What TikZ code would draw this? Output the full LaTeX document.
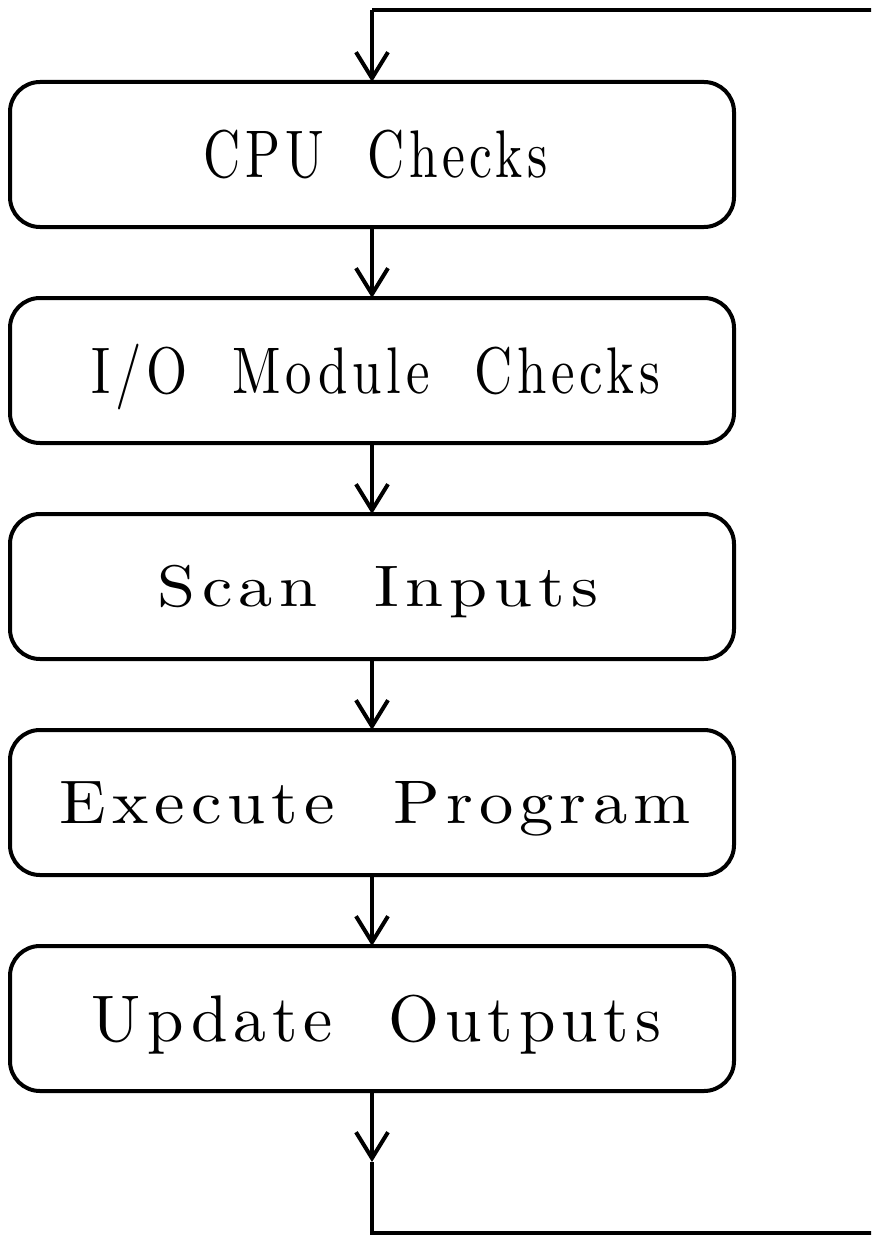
\documentclass[tikz,border=0pt]{standalone}
\usepackage{fontspec}
\usepackage{graphicx}
\usetikzlibrary{arrows.meta}
\newfontfamily\lblfont[LetterSpace=9,WordSpace=2]{lmroman10-regular.otf}
\newcommand{\lbl}[3]{\resizebox{#1pt}{#2pt}{\lblfont\rule{0pt}{6.83pt}\smash{#3}}}
\tikzset{
  stagebox/.style={draw, line width=4pt, rounded corners=30pt, minimum width=724pt, minimum height=145pt, inner sep=0pt, outer sep=0pt},
  flow/.style={line width=4pt, line join=miter, -{Straight Barb[length=26pt,width=32pt]}},
  plainline/.style={line width=4pt, line join=miter}
}
\begin{document}
\begin{tikzpicture}[x=1pt,y=-1pt]
\useasboundingbox (0,0) rectangle (871,1236);
\clip (0,0) rectangle (871,1236);
\node[stagebox] (b1) at (372,154.5)  {\hspace*{8pt}\lbl{344}{46}{CPU Checks}};
\node[stagebox] (b2) at (372,370.5)  {\hspace*{8pt}\lbl{568}{45}{I/O Module Checks}};
\node[stagebox] (b3) at (372,586.5)  {\hspace*{12pt}\lbl{440}{40}{Scan Inputs}};
\node[stagebox] (b4) at (372,802.5)  {\hspace*{6pt}\lbl{631}{42}{Execute Program}};
\node[stagebox] (b5) at (372,1018.5) {\hspace*{9pt}\lbl{569}{45}{Update Outputs}};
\coordinate (m)  at (372,1162);
\coordinate (c1) at (372,1233);
\coordinate (c2) at (885,1233);
\coordinate (c3) at (885,10);
\coordinate (c4) at (372,10);
\draw[flow] (b1.south) -- (b2.north);
\draw[flow] (b2.south) -- (b3.north);
\draw[flow] (b3.south) -- (b4.north);
\draw[flow] (b4.south) -- (b5.north);
\draw[flow] (b5.south) -- (m);
\draw[plainline] (m) -- (c1) -- (c2) -- (c3) -- (c4);
\draw[flow] (c4) -- (b1.north);
\end{tikzpicture}
\end{document}
